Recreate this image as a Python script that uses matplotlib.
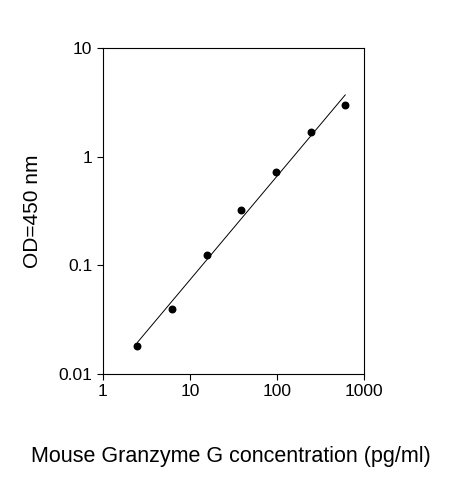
import matplotlib
matplotlib.use("Agg")
import matplotlib.pyplot as plt
import numpy as np

plt.rcParams["font.family"] = ["Liberation Sans", "DejaVu Sans"]

# Standard curve points
conc = [2.5, 6.25, 15.6, 39.0, 97.6, 244.0, 610.0]
od = [0.018, 0.040, 0.125, 0.32, 0.72, 1.70, 3.00]

# Fit line endpoints
line_x = [2.5, 610.0]
line_y = [0.0195, 3.7]

fig = plt.figure(figsize=(4.63, 4.8), dpi=100)
ax = fig.add_axes([0.222, 0.221, 0.564, 0.679])
ax.plot(line_x, line_y, color="black", linewidth=0.7)
ax.scatter(conc, od, s=22, color="black", zorder=3)
ax.set_xscale("log")
ax.set_yscale("log")
ax.set_xlim(1, 1000)
ax.set_ylim(0.01, 10)
ax.set_xticks([1, 10, 100, 1000])
ax.set_xticklabels(["1", "10", "100", "1000"])
ax.set_yticks([0.01, 0.1, 1, 10])
ax.set_yticklabels(["0.01", "0.1", "1", "10"])
ax.minorticks_off()
ax.tick_params(labelsize=12.5, length=4)
ax.set_ylabel("OD=450 nm", fontsize=15, labelpad=12)
ax.set_xlabel("Mouse Granzyme G concentration (pg/ml)", fontsize=15.5)
ax.xaxis.set_label_coords(0.49, -0.22)
fig.savefig("out.png", dpi=100)
